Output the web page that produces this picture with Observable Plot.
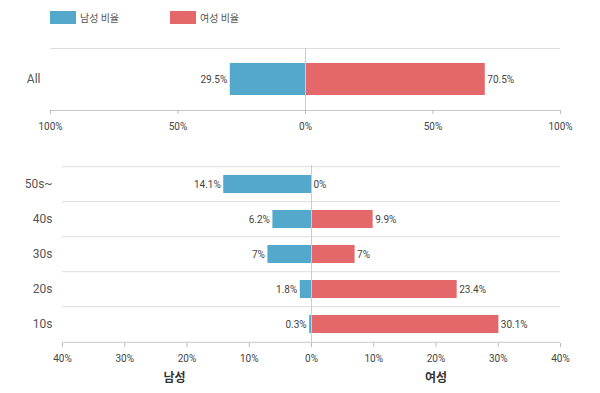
<!DOCTYPE html>
<html><head><meta charset="utf-8">
<script src="https://cdn.jsdelivr.net/npm/d3@7"></script>
<script src="https://cdn.jsdelivr.net/npm/@observablehq/plot@0.6"></script>
<style>
body{margin:0;background:#fff;font-family:Roboto,"Noto Sans CJK KR",sans-serif;}
#wrap{position:relative;width:600px;height:393px;overflow:hidden;}
#legend{position:absolute;left:0;top:0;width:600px;height:36px;}
.sw{position:absolute;top:11px;width:26px;height:13px;}
.lt{position:absolute;top:10px;font-size:10px;color:#555;font-family:"Noto Sans CJK KR",sans-serif;line-height:15px;}
#top{position:absolute;left:0;top:36px;}
#bottom{position:absolute;left:0;top:140px;}
svg{overflow:visible;}
</style></head>
<body><div id="wrap"><div id="legend"></div><div id="top"></div><div id="bottom"></div></div>
<script>
// ---- data ----
const seriesNames = ["남성 비율", "여성 비율"];
const colors = ["#54a8cb", "#e4676a"];
const allCategory = ["All"];
const allMale = [29.5];
const allFemale = [70.5];
const ageGroups = ["50s~", "40s", "30s", "20s", "10s"];
const ageMale = [14.1, 6.2, 7, 1.8, 0.3];
const ageFemale = [0, 9.9, 7, 23.4, 30.1];
const topTicks = [-100, -50, 0, 50, 100];
const bottomTicks = [-40, -30, -20, -10, 0, 10, 20, 30, 40];
const sideLabels = ["남성", "여성"];
const sideLabelX = [-22, 20];

// legend
const lg = document.getElementById("legend");
const lx = [50, 170];
seriesNames.forEach((n, i) => {
  const s = document.createElement("div"); s.className = "sw";
  s.style.left = lx[i] + "px"; s.style.background = colors[i]; lg.appendChild(s);
  const t = document.createElement("div"); t.className = "lt";
  t.style.left = (lx[i] + 30) + "px"; t.textContent = n; lg.appendChild(t);
});

const fmt = v => `${Math.abs(v)}%`;

function chart(cats, male, female, ticks, dom, opts) {
  const rows = cats.map((c, i) => ({c, m: male[i], f: female[i]}));
  const n = cats.length;
  const plotH = opts.height - opts.marginTop - opts.marginBottom;
  const step = plotH / n;
  const marks = [
    Plot.ruleY(rows, {y: "c", dy: -step / 2, stroke: "#ddd"}),
    Plot.ruleY(rows.slice(-1), {y: "c", dy: step / 2, stroke: "#c8c8c8"}),
    Plot.barX(rows, {y: "c", x1: 0, x2: d => -d.m, fill: colors[0]}),
    Plot.barX(rows, {y: "c", x1: 0, x2: "f", fill: colors[1]}),
    Plot.ruleX([0], {stroke: "#ccc"}),
    Plot.text(rows, {y: "c", x: d => -d.m, text: d => fmt(d.m), textAnchor: "end", dx: -3, fill: "#444", fontSize: 10}),
    Plot.text(rows, {y: "c", x: "f", text: d => fmt(d.f), textAnchor: "start", dx: 2, fill: "#444", fontSize: 10}),
    Plot.axisX({ticks, tickFormat: fmt, tickSize: 4, tickPadding: opts.tickPad, stroke: "#bbb", fill: "#444", fontSize: 10, label: null}),
    Plot.axisY({tickSize: 0, tickPadding: opts.yPad, fill: "#555", fontSize: 12, label: null})
  ];
  if (opts.extra) marks.push(...opts.extra);
  return Plot.plot({
    width: 600, height: opts.height,
    marginTop: opts.marginTop, marginBottom: opts.marginBottom,
    marginLeft: opts.marginLeft, marginRight: 40,
    style: {fontFamily: 'Roboto,"Noto Sans CJK KR",sans-serif', background: "transparent"},
    x: {domain: dom},
    y: {domain: cats, paddingInner: opts.pad, paddingOuter: opts.pad / 2},
    marks
  });
}

document.getElementById("top").appendChild(chart(allCategory, allMale, allFemale, topTicks, [-100, 100], {
  height: 104, marginTop: 12, marginBottom: 30, marginLeft: 50, pad: 0.485, tickPad: 8, yPad: 10
}));

const sides = sideLabels.map((t, i) => ({t, x: sideLabelX[i]}));
document.getElementById("bottom").appendChild(chart(ageGroups, ageMale, ageFemale, bottomTicks, [-40, 40], {
  height: 253, marginTop: 25, marginBottom: 50, marginLeft: 62, pad: 0.494, tickPad: 7, yPad: 10,
  extra: [Plot.text(sides, {x: "x", text: "t", frameAnchor: "bottom", dy: 38, fontSize: 12, fontWeight: "bold", fill: "#333"})]
}));
</script></body></html>
